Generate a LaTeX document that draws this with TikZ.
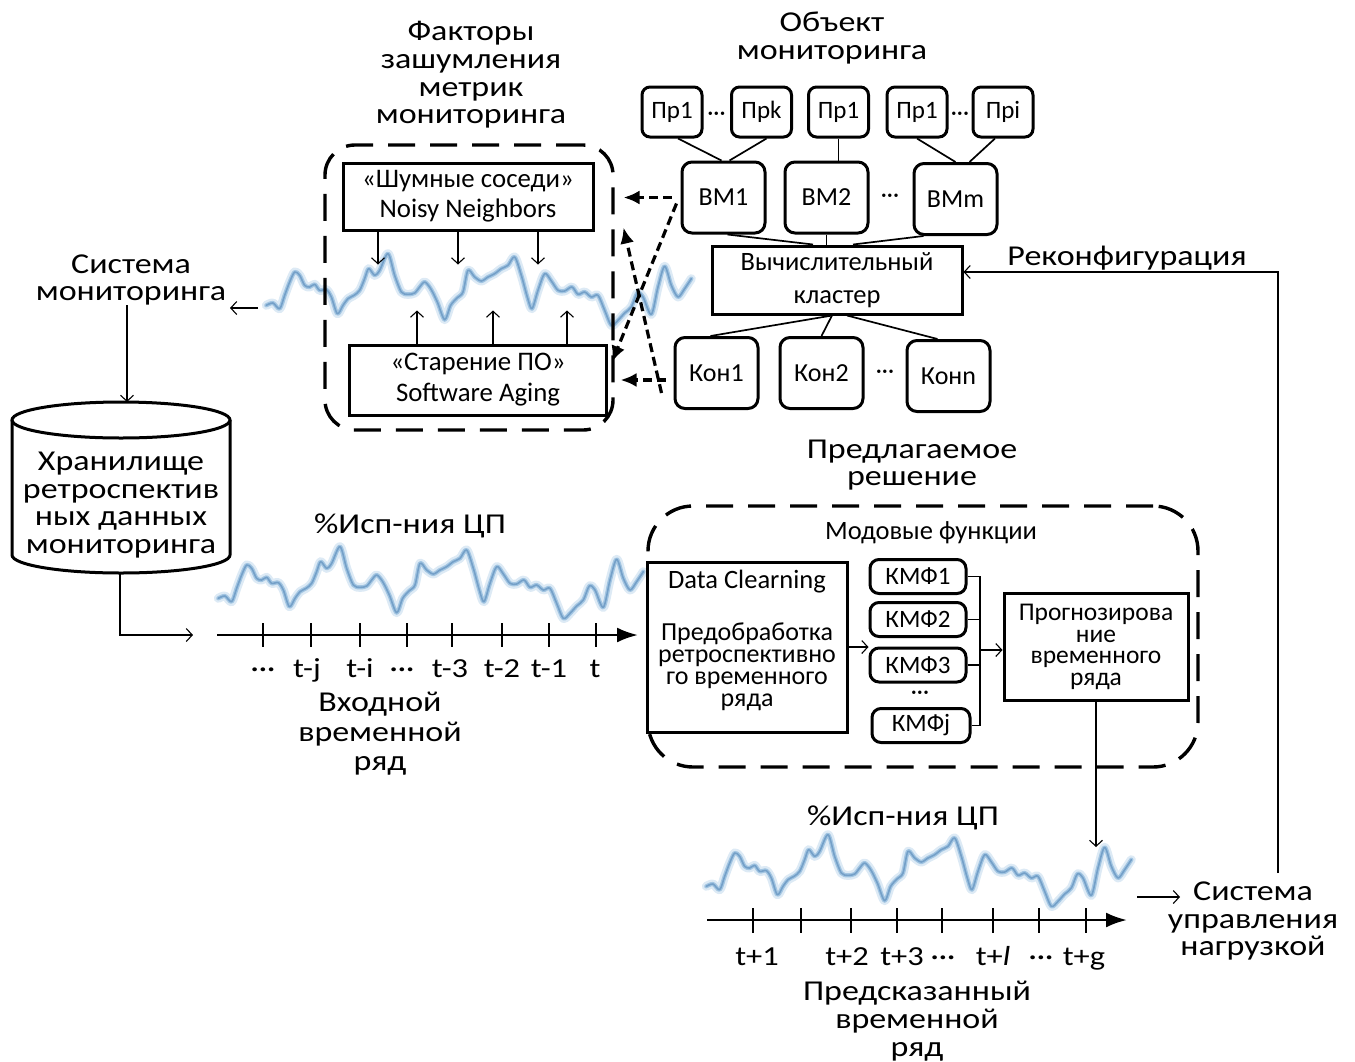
\documentclass[tikz,border=0pt]{standalone}
\usepackage{fontspec}
\setmainfont{Carlito}
\newfontfamily\widefont{Carlito}[FakeStretch=1.18]
\usetikzlibrary{arrows.meta}

\definecolor{wavehalo}{RGB}{212,229,242}
\definecolor{wavebody}{RGB}{162,197,226}
\definecolor{wavecore}{RGB}{116,160,200}

\newcommand\fsz[2]{\fontsize{#1}{#2}\selectfont}

% CPU usage curve, drawn in three strokes to give it a soft blue look
\newcommand\cpuwave[1]{%
  \begin{scope}[shift={#1}, scale=1/3]
    \foreach \wstyle in {wv halo, wv body, wv core}
      \draw[\wstyle] plot[smooth, tension=.5] coordinates {
        (55,295) (75,288) (95,305) (110,265) (125,225) (140,195) (155,205)
        (170,235) (185,240) (200,232) (215,250) (235,248) (250,270) (268,320)
        (285,295) (300,275) (318,265) (335,250) (350,215) (362,185) (380,205)
        (395,190) (420,140) (440,205) (460,255) (480,262) (500,258) (515,240)
        (530,225) (548,245) (568,285) (590,338) (608,295) (628,272) (645,255)
        (660,190) (680,210) (700,222) (720,210) (740,200) (760,185) (780,175)
        (800,150) (820,205) (838,270) (852,305) (870,250) (890,200) (910,222)
        (930,250) (950,252) (972,240) (990,262) (1010,255) (1030,270) (1050,265)
        (1070,310) (1090,355) (1110,340) (1130,318) (1150,300) (1168,258)
        (1185,270) (1210,322) (1230,240) (1250,178) (1270,235) (1290,270)
        (1310,245) (1330,215)};
  \end{scope}}

\tikzset{
  lbl/.style={align=center, inner sep=0pt, font=\widefont\fsz{28.8}{27.7}},
  sqbox/.style={draw, fill=white, line width=3pt, align=center, inner sep=0pt},
  rbox/.style={draw, fill=white, line width=3pt, rounded corners=8pt, align=center, inner sep=0pt},
  prbox/.style={rbox, minimum width=60, minimum height=50, font=\fsz{25}{25}},
  hostbox/.style={rbox, minimum width=83, minimum height=71, font=\fsz{26}{26}, rounded corners=10pt},
  kmfbox/.style={rbox, minimum width=96, minimum height=34, font=\fsz{25}{25}, rounded corners=9pt},
  dotsep/.style={inner sep=0pt, font=\fsz{24}{24}},
  link/.style={line width=1.7pt},
  fineline/.style={line width=1.1pt},
  thinarrow/.style={fineline, -{Straight Barb[length=6pt,width=13pt]}},
  grp/.style={draw, line width=3.4pt, dash pattern=on 27pt off 15pt, rounded corners=30pt, inner sep=0pt},
  dasharrow/.style={line width=3.2pt, dash pattern=on 9pt off 5pt, -{Latex[length=16pt,width=14pt]}},
  axisarrow/.style={line width=2.6pt, -{Latex[length=21pt,width=15pt]}},
  tickmark/.style={line width=1.8pt},
  tlabel/.style={inner sep=0pt, font=\widefont\fsz{27.5}{27.5}, anchor=base},
  wv halo/.style={line width=9pt, draw=wavehalo, opacity=.8, line join=round, line cap=round},
  wv body/.style={line width=4.2pt, draw=wavebody, line join=round, line cap=round},
  wv core/.style={line width=1.6pt, draw=wavecore, line join=round, line cap=round},
}

\begin{document}
\begin{tikzpicture}[x=1pt, y=-1pt]
\useasboundingbox (0,0) rectangle (1355,1061);

% ---- time series curves ----
\cpuwave{(248,207)}
\cpuwave{(200,500)}
\cpuwave{(688,788)}

% ---- noise factors ----
\node[lbl] (ftitle) at (471,75) {Факторы\\зашумления\\метрик\\мониторинга};
\node[grp, minimum width=288, minimum height=285] (fgrp) at (469,287.5) {};
\node[sqbox, minimum width=250, minimum height=67, font=\fsz{26.8}{30}] (noisy) at (468,196.5) {«Шумные соседи»\\Noisy Neighbors};
\node[sqbox, minimum width=257, minimum height=70, font=\fsz{26.8}{31}] (aging) at (478,380) {«Старение ПО»\\Software Aging};

\foreach \dx in {-90,-10,70}
  \draw[thinarrow] ([xshift=\dx]noisy.south) -- ++(0,33);
\foreach \dx in {-61,15,89}
  \draw[thinarrow] ([xshift=\dx]aging.north) -- ++(0,-33);

% ---- monitored object ----
\node[lbl] (otitle) at (832,38) {Объект\\мониторинга};

\node[prbox] (pa) at (672,112) {Пр1};
\node[prbox] (pb) at (761.5,112) {Прk};
\node[prbox] (pc) at (838.5,112) {Пр1};
\node[prbox] (pd) at (917,112) {Пр1};
\node[prbox] (pe) at (1003,112) {Прi};
\node[dotsep] (pdots1) at (716.5,116) {···};
\node[dotsep] (pdots2) at (960,116) {···};

\node[hostbox] (vm1) at (723.5,197.5) {ВМ1};
\node[hostbox] (vm2) at (826.5,197.5) {ВМ2};
\node[hostbox] (vmm) at (955.5,199) {ВМm};
\node[dotsep] (vdots) at (890,198) {···};

\node[sqbox, minimum width=250, minimum height=68, font=\fsz{26.5}{33}] (cluster) at (837,280) {Вычислительный\\кластер};

\node[hostbox] (k1) at (716.5,373) {Кон1};
\node[hostbox] (k2) at (821.5,373) {Кон2};
\node[hostbox] (kn) at (948.5,376) {Конn};
\node[dotsep] (kdots) at (885,374) {···};

\draw[link] ([xshift=6]pa.south) -- ([xshift=-2]vm1.north);
\draw[link] ([xshift=5]pb.south) -- ([xshift=6]vm1.north);
\draw[link] (pc.south) -- (pc.south |- vm2.north);
\draw[link] (pd.south) -- (vmm.north);
\draw[link] ([xshift=-8]pe.south) -- ([xshift=14]vmm.north);

\draw[link] ([xshift=4]vm1.south) -- ([xshift=-24]cluster.north);
\draw[link] (vm2.south) -- (vm2.south |- cluster.north);
\draw[link] ([xshift=-32]vmm.south) -- ([xshift=16]cluster.north);

\draw[link] ([xshift=-5]cluster.south) -- ([xshift=-6]k1.north);
\draw[link] ([xshift=-5]cluster.south) -- (k2.north);
\draw[link] ([xshift=10]cluster.south) -- ([xshift=-11]kn.north);

% influence of the object on the noise factors
\draw[dasharrow] ([xshift=-9]vm1.west) -- ([xshift=-57]vm1.west);
\draw[dasharrow] ([shift={(-8,7)}]k1.west) -- ([shift={(-53,7)}]k1.west);
\draw[dasharrow] ([shift={(-4,6)}]vm1.west) -- ([shift={(4,-18)}]aging.east);
\draw[dasharrow] ([shift={(-12,20)}]k1.west) -- ([shift={(29,31)}]noisy.east);

% reconfiguration feedback
\node[lbl] (rtitle) at (1127,258) {Реконфигурация};
\coordinate (rcb) at (1278,873);
\draw[thinarrow] (rcb) |- ([shift={(0,-8)}]cluster.east);

% ---- monitoring system and storage ----
\node[lbl] (sm) at (131,280) {Система\\мониторинга};
\coordinate (wvtail) at (258,308);
\coordinate (smr) at (230,308);
\draw[thinarrow] (wvtail) -- (smr);

\coordinate (smb) at (127,305);
\coordinate (cyltop) at (127,402);
\draw[thinarrow] (smb) -- (cyltop);

\draw[line width=3pt] (12,420) -- (12,555)
  arc[start angle=180, end angle=360, x radius=109pt, y radius=18pt] -- (230,420);
\draw[line width=3pt] (121,420) ellipse[x radius=109pt, y radius=18pt];
\node[lbl] (store) at (121,505) {Хранилище\\ретроспектив\\ных данных\\мониторинга};

\coordinate (cylbot) at (120,573);
\coordinate (axin) at (193,635);
\draw[thinarrow] (cylbot) |- (axin);

% ---- input series ----
\node[lbl] (incpu) at (410,526) {\%Исп-ния ЦП};
\coordinate (ax0) at (217,635);
\coordinate (ax1) at (638,635);
\draw[axisarrow] (ax0) -- (ax1);
\foreach \x in {263,311,360,407,452,502,549,596}
  \draw[tickmark] (\x,623) -- (\x,647);
\node[tlabel] (il1) at (263,677) {···};
\node[tlabel] (il2) at (307,677) {t-j};
\node[tlabel] (il3) at (360,677) {t-i};
\node[tlabel] (il4) at (402,677) {···};
\node[tlabel] (il5) at (450,677) {t-3};
\node[tlabel] (il6) at (502,677) {t-2};
\node[tlabel] (il7) at (549,677) {t-1};
\node[tlabel] (il8) at (595,677) {t};
\node[lbl, font=\widefont\fsz{28.8}{29.5}] (intitle) at (380,734) {Входной\\временной\\ряд};

% ---- proposed solution ----
\node[lbl] (ptitle) at (912,465) {Предлагаемое\\решение};
\node[grp, minimum width=550, minimum height=261, rounded corners=45pt] (pgrp) at (923,636.5) {};
\node[lbl, font=\fsz{26.5}{26.5}] (modes) at (931,533) {Модовые функции};

\node[sqbox, minimum width=200, minimum height=170] (dc) at (747,647) {};
\node[lbl, font=\fsz{26.5}{26.5}] (dctitle) at (747,582) {Data Clearning};
\node[lbl, font=\fsz{26}{22}] (dcbody) at (747,667) {Предобработка\\ретроспективно\\го временного\\ряда};

\node[kmfbox] (km1) at (918,576.5) {КМФ1};
\node[kmfbox] (km2) at (918,619.5) {КМФ2};
\node[kmfbox] (km3) at (918,665) {КМФ3};
\node[dotsep] (kmdots) at (920,695) {···};
\node[kmfbox, minimum width=98] (kmj) at (921,725.5) {КМФj};

\node[sqbox, minimum width=184, minimum height=107, font=\fsz{25.5}{21.5}] (prog) at (1096,647) {Прогнозирова\\ние\\временного\\ряда};

\draw[thinarrow] (dc.east) -- (dc.east -| km3.west);
\coordinate (brk) at (980,650);
\draw[fineline] (km1.east) -- (km1.east -| brk) -- (kmj.east -| brk) -- (kmj.east);
\draw[fineline] (km2.east) -- (km2.east -| brk);
\draw[fineline] (km3.east) -- (km3.east -| brk);
\draw[thinarrow] (brk) -- (brk -| prog.west);
\draw[thinarrow] (prog.south) -- ++(0,145);

% ---- predicted series ----
\node[lbl] (outcpu) at (903,818) {\%Исп-ния ЦП};
\coordinate (bx0) at (707,920);
\coordinate (bx1) at (1127,920);
\draw[axisarrow] (bx0) -- (bx1);
\foreach \x in {753,801,851,897,942,993,1039,1086}
  \draw[tickmark] (\x,908) -- (\x,933);
\node[tlabel] (ol1) at (757,965) {t+1};
\node[tlabel] (ol2) at (847,965) {t+2};
\node[tlabel] (ol3) at (902,965) {t+3};
\node[tlabel] (ol4) at (943,965) {···};
\node[tlabel] (ol5) at (993,965) {t+\textit{l}};
\node[tlabel] (ol6) at (1041,965) {···};
\node[tlabel] (ol7) at (1084,965) {t+g};
\node[lbl] (outtitle) at (917,1021) {Предсказанный\\временной\\ряд};

% ---- load management ----
\node[lbl] (lms) at (1253,921) {Система\\управления\\нагрузкой};
\coordinate (lmsa) at (1137,897);
\coordinate (lmsb) at (1180,897);
\draw[thinarrow] (lmsa) -- (lmsb);

\end{tikzpicture}
\end{document}
